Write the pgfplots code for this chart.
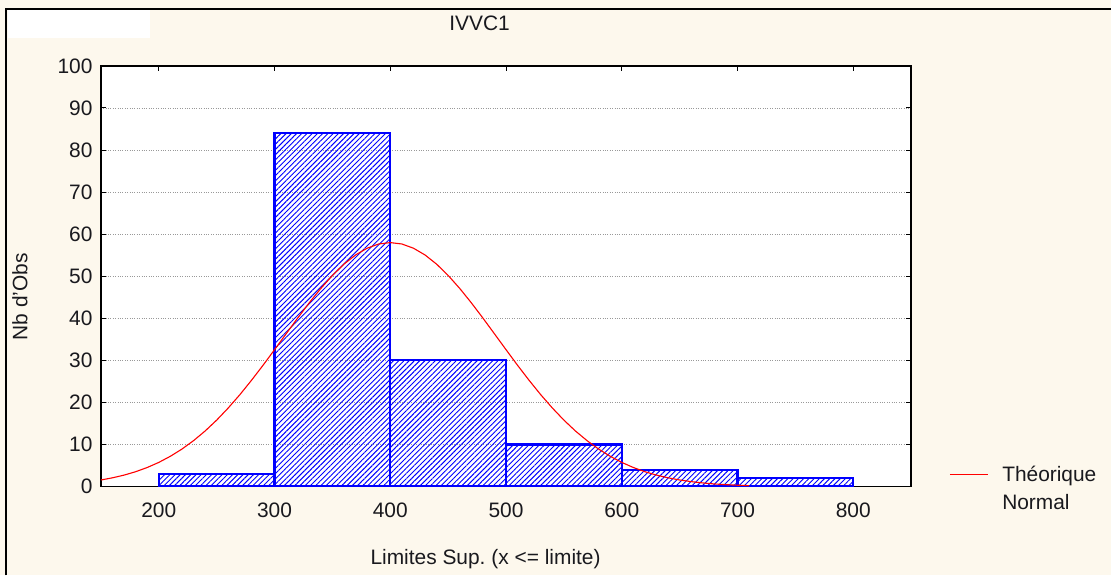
\documentclass[border=0pt]{standalone}
\usepackage{fontspec}
\setmainfont{Liberation Sans}
\usepackage{pgfplots}
\pgfplotsset{compat=1.18}
\usetikzlibrary{patterns.meta}
\definecolor{cream}{RGB}{253,248,237}
\definecolor{txt}{RGB}{25,25,30}
\newcommand{\fnt}{\fontsize{21}{25}\selectfont}
\begin{document}
\begin{tikzpicture}
\fill[cream] (0bp,0bp) rectangle (1112bp,576bp);
\fill[white] (8bp,538bp) rectangle (150bp,567bp);
\draw[black, line width=2bp] (6bp,0bp) -- (6bp,567bp) -- (1112bp,567bp);
\begin{axis}[
  at={(101bp,89bp)}, anchor=south west,
  width=811bp, height=421bp, scale only axis,
  xmin=150, xmax=850, ymin=0, ymax=100,
  xtick={200,300,...,800}, ytick={0,10,...,100},
  axis background/.style={fill=white},
  axis line style={line width=1.5bp, black},
  tick align=inside, major tick length=5bp,
  tick style={black, line width=1bp},
  ymajorgrids, major grid style={dotted, gray!80, line width=0.9bp},
  /pgf/number format/assume math mode=true,
  /pgf/number format/1000 sep={},
  tick label style={font=\fnt, text=txt},
  xticklabel style={yshift=-13bp},
  yticklabel style={xshift=-5bp},
  legend style={at={(1.043,0.058)}, anchor=north west, draw=none, fill=none,
    font=\fnt, text=txt, row sep=7bp, column sep=12bp,
    cells={anchor=west}},
  legend image code/.code={\draw[#1] (0bp,0bp) -- (38bp,0bp);},
]
\addplot[ybar interval, draw=blue, line width=2.2bp,
  pattern={Lines[angle=45, distance=3.7bp, line width=0.95bp]}, pattern color=blue, forget plot]
  coordinates {(200,3) (300,84) (400,30) (500,10) (600,4) (700,2) (800,2)};
\addplot[red, line width=1.1bp] coordinates {
(150,1.56) (160,2.08) (170,2.72) (180,3.53) (190,4.53) (200,5.74) (210,7.20)
(220,8.91) (230,10.91) (240,13.20) (250,15.79) (260,18.68) (270,21.83)
(280,25.23) (290,28.81) (300,32.54) (310,36.31) (320,40.06) (330,43.69)
(340,47.10) (350,50.19) (360,52.88) (370,55.06) (380,56.67) (390,57.67)
(400,58.00) (410,57.67) (420,56.67) (430,55.06) (440,52.88) (450,50.19)
(460,47.10) (470,43.69) (480,40.06) (490,36.31) (500,32.54) (510,28.81)
(520,25.23) (530,21.83) (540,18.68) (550,15.79) (560,13.20) (570,10.91)
(580,8.91) (590,7.20) (600,5.74) (610,4.53) (620,3.53) (630,2.72)
(640,2.08) (650,1.56) (660,1.17) (670,0.86) (680,0.62) (690,0.45)
(700,0.32) (710,0.22)};
\addlegendentry{Théorique}
\addlegendimage{empty legend}
\addlegendentry{Normal}
\end{axis}
\node[text=txt, font=\fnt] at (480bp,553bp) {IVVC1};
\node[text=txt, font=\fnt, anchor=base] at (486bp,11bp) {Limites Sup.\ (x <= limite)};
\node[text=txt, font=\fnt, rotate=90] at (20bp,279bp) {Nb d'Obs};
\end{tikzpicture}
\end{document}
